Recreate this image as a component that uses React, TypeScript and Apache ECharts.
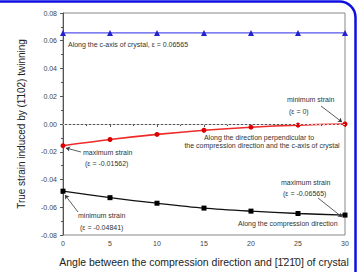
import React, { useEffect, useRef } from "react";
import * as echarts from "echarts";

const angles = [0, 5, 10, 15, 20, 25, 30];
const cAxisStrain = [0.06565, 0.06565, 0.06565, 0.06565, 0.06565, 0.06565, 0.06565];
const perpStrain = [-0.01562, -0.0112, -0.0075, -0.0045, -0.0023, -0.0008, 0];
const compStrain = [-0.04841, -0.0531, -0.0571, -0.0606, -0.0628, -0.0645, -0.06565];

const FONT = "Liberation Sans, Arial, sans-serif";

export default function App() {
  const ref = useRef<HTMLDivElement>(null);
  useEffect(() => {
    const chart = echarts.init(ref.current!, null, { renderer: "svg" });
    const pair = (xs: number[], ys: number[]) => xs.map((x, i) => [x, ys[i]]);
    const txt = (x: number, y: number, t: string, align = "left") => ({
      type: "text",
      x,
      y,
      style: { text: t, fontSize: 7, fontFamily: FONT, fill: "#333", align, verticalAlign: "middle" },
      z: 10,
    });
    const arrow = (x1: number, y1: number, x2: number, y2: number) => [
      { x: x1, y: y1 },
      { x: x2, y: y2 },
    ];
    chart.setOption({
      animation: false,
      grid: { left: 63, right: 12, top: 13, bottom: 35, show: true, borderColor: "#888", borderWidth: 1 },
      xAxis: {
        type: "value",
        min: 0,
        max: 30,
        interval: 5,
        name: "Angle between the compression direction and [1\u030421\u03040] of crystal",
        nameLocation: "middle",
        nameGap: 21,
        nameTextStyle: { fontSize: 10.5, fontFamily: FONT, color: "#222" },
        axisLine: { lineStyle: { color: "#555" } },
        axisTick: { lineStyle: { color: "#555" }, length: 3 },
        minorTick: { show: true, splitNumber: 2, length: 2, lineStyle: { color: "#555" } },
        splitLine: { show: false },
        axisLabel: { fontSize: 7, fontFamily: FONT, color: "#444", margin: 5 },
      },
      yAxis: {
        type: "value",
        min: -0.08,
        max: 0.08,
        interval: 0.02,
        name: "True strain induced by (1\u0304102) twinning",
        nameLocation: "middle",
        nameGap: 37,
        nameTextStyle: { fontSize: 10, fontFamily: FONT, color: "#222" },
        axisLine: { lineStyle: { color: "#555" } },
        axisTick: { lineStyle: { color: "#555" }, length: 3 },
        minorTick: { show: true, splitNumber: 2, length: 2, lineStyle: { color: "#555" } },
        splitLine: { show: false },
        axisLabel: { fontSize: 7, fontFamily: FONT, color: "#444", margin: 6, formatter: (v: number) => v.toFixed(2) },
      },
      series: [
        {
          type: "line",
          data: pair(angles, cAxisStrain),
          symbol: "triangle",
          symbolSize: 6,
          itemStyle: { color: "#2222cc" },
          lineStyle: { color: "#5555ee", width: 1.3 },
          markLine: {
            silent: true,
            symbol: "none",
            label: { show: false },
            lineStyle: { color: "#c8c8c8", type: [2, 2], width: 1 },
            data: [{ yAxis: 0 }],
          },
        },
        {
          type: "line",
          data: pair(angles, perpStrain),
          smooth: 0.3,
          symbol: "circle",
          symbolSize: 5,
          itemStyle: { color: "#dd0000" },
          lineStyle: { color: "#ee2a2a", width: 1.6 },
        },
        {
          type: "line",
          data: pair(angles, compStrain),
          smooth: 0.3,
          symbol: "rect",
          symbolSize: 5,
          itemStyle: { color: "#000" },
          lineStyle: { color: "#111", width: 1.3 },
          markLine: {
            silent: true,
            symbol: ["none", "arrow"],
            symbolSize: 4,
            label: { show: false },
            lineStyle: { color: "#333", type: "solid", width: 0.8 },
            data: [
              arrow(321, 106, 342, 122),
              arrow(81, 152, 66, 148),
              arrow(78, 212, 65, 195),
              arrow(318, 198, 342, 217),
            ],
          },
        },
      ],
      graphic: [
        {
          type: "rect",
          shape: { x: -20, y: 1.5, width: 375.5, height: 400, r: 16 },
          style: { fill: "none", stroke: "#1010e0", lineWidth: 2.5 },
          z: 20,
        },
        txt(68, 44, "Along the c-axis of crystal, \u03b5 = 0.06565"),
        txt(287, 99, "minimum strain"),
        txt(289, 111, "(\u03b5 = 0)"),
        txt(259, 137, "Along the direction perpendicular to", "center"),
        txt(262, 145, "the compression direction and the c-axis of crystal", "center"),
        txt(83, 152, "maximum strain"),
        txt(85, 163, "(\u03b5 = -0.01562)"),
        txt(78, 215, "minimum strain"),
        txt(80, 227, "(\u03b5 = -0.04841)"),
        txt(281, 182, "maximum strain"),
        txt(283, 193, "(\u03b5 = -0.06565)"),
        txt(238, 223, "Along the compression direction"),
      ],
    });
    return () => chart.dispose();
  }, []);
  return <div ref={ref} style={{ width: 357, height: 272, position: "absolute", left: 0, top: 0 }} />;
}
